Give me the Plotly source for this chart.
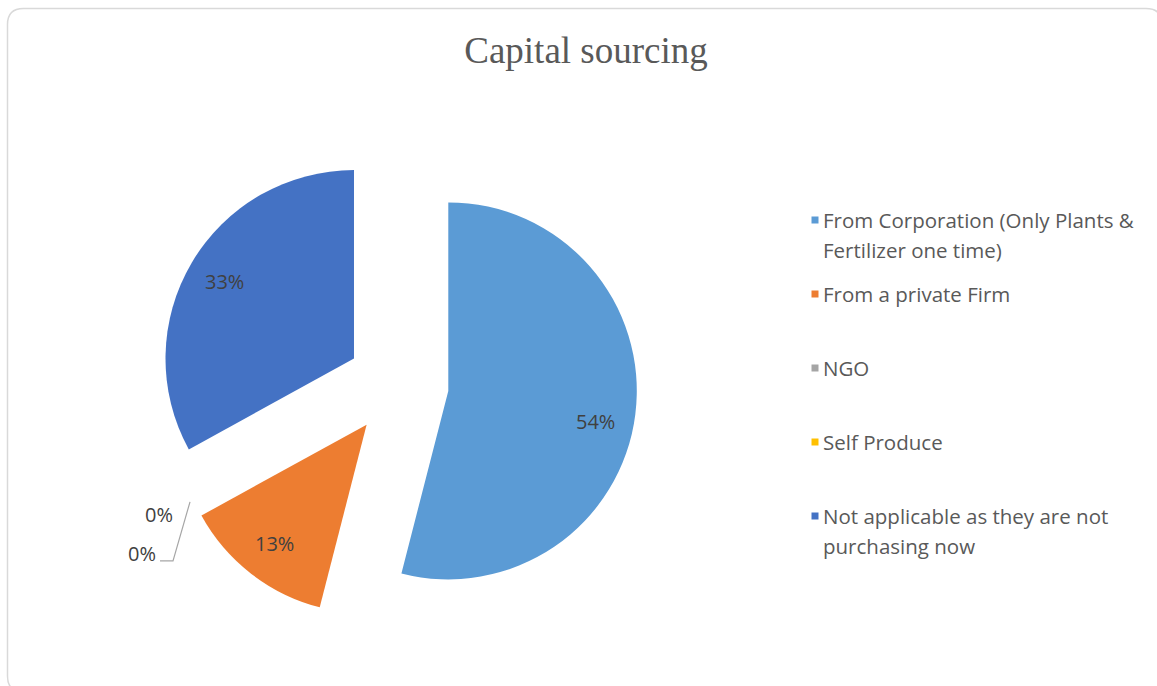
import math
import plotly.graph_objects as go

# Sources of capital and their share (%)
sources = [
    "From Corporation (Only Plants & Fertilizer one time)",
    "From a private Firm",
    "NGO",
    "Self Produce",
    "Not applicable as they are not purchasing now",
]
legend_lines = [
    ["From Corporation (Only Plants &", "Fertilizer one time)"],
    ["From a private Firm"],
    ["NGO"],
    ["Self Produce"],
    ["Not applicable as they are not", "purchasing now"],
]
shares = [54, 13, 0, 0, 33]
colors = ["#5B9BD5", "#ED7D31", "#A5A5A5", "#FFC000", "#4472C4"]

W, H = 1157, 686
PULL = 0.27
RADIUS = 188.5
CX, CY = 397.8, 384.5  # pie centre in pixels (from top-left)

side = 2 * RADIUS * (1 + PULL)
dom_x = [(CX - side / 2) / W, (CX + side / 2) / W]
dom_y = [1 - (CY + side / 2) / H, 1 - (CY - side / 2) / H]


def px(x):
    return x / W


def py(y):
    return 1 - y / H


fig = go.Figure(
    go.Pie(
        labels=sources,
        values=shares,
        marker=dict(colors=colors, line=dict(width=0)),
        pull=[PULL] * len(shares),
        sort=False,
        direction="clockwise",
        rotation=0,
        textinfo="none",
        hoverinfo="label+percent",
        domain=dict(x=dom_x, y=dom_y),
        showlegend=False,
    )
)

annotations = []
shapes = []

LABEL_FONT = dict(family="Open Sans", size=20, color="#404040")

# Percentage labels placed along each slice's mid-angle
total = sum(shares)
start = 0.0
zero_labels = []
for val, col in zip(shares, colors):
    frac = val / total
    mid = (start + frac / 2) * 2 * math.pi
    if val > 0:
        # large slices get their label nudged a little further round
        mid += math.radians(3.5) if frac > 0.5 else 0.0
        dx, dy = math.sin(mid), -math.cos(mid)
        k = (PULL + 0.80) * RADIUS
        annotations.append(dict(
            x=px(CX + k * dx), y=py(CY + k * dy), xref="paper", yref="paper",
            text=f"{val}%", showarrow=False, xanchor="center", yanchor="middle",
            font=LABEL_FONT,
        ))
    else:
        zero_labels.append((val, math.sin(mid), -math.cos(mid)))
    start += frac

# Zero-share slices get outside labels with a leader line
if zero_labels:
    _, dx, dy = zero_labels[0]
    k = (PULL + 1.0) * RADIUS
    sx, sy = CX + k * dx + 2, CY + k * dy + 2
    ex, ey = sx - 17, sy + 59
    shapes.append(dict(
        type="path", xref="paper", yref="paper",
        path=f"M {px(sx)} {py(sy)} L {px(ex)} {py(ey)} L {px(ex - 13)} {py(ey)}",
        line=dict(color="#A6A6A6", width=1.2),
    ))
    label_pos = [(sx - 15, sy + 13), (ex - 15, ey - 7)]
    for (val, _, _), (lx, ly) in zip(zero_labels, label_pos):
        annotations.append(dict(
            x=px(lx), y=py(ly), xref="paper", yref="paper",
            text=f"{val}%", showarrow=False, xanchor="right", yanchor="middle",
            font=LABEL_FONT,
        ))

# Legend drawn as coloured squares with text lines
leg_x, leg_y0, leg_step, line_gap = 815.0, 220, 74, 30
for i, (lines, col) in enumerate(zip(legend_lines, colors)):
    cy = leg_y0 + i * leg_step
    shapes.append(dict(
        type="rect", xref="paper", yref="paper",
        x0=px(leg_x - 3.5), x1=px(leg_x + 3.5), y0=py(cy + 3.5), y1=py(cy - 3.5),
        fillcolor=col, line=dict(width=0),
    ))
    for j, txt in enumerate(lines):
        annotations.append(dict(
            x=px(leg_x + 5.5), y=py(cy + j * line_gap), xref="paper", yref="paper",
            text=txt, showarrow=False, xanchor="left", yanchor="middle",
            font=dict(family="Open Sans", size=20.5, color="#595959"),
        ))

# Rounded chart frame
x0, y0, x1, y1, r = 7.5, 8.5, 1162, 692, 16
frame = (
    f"M {px(x0 + r)} {py(y0)} L {px(x1 - r)} {py(y0)} "
    f"Q {px(x1)} {py(y0)} {px(x1)} {py(y0 + r)} "
    f"L {px(x1)} {py(y1 - r)} Q {px(x1)} {py(y1)} {px(x1 - r)} {py(y1)} "
    f"L {px(x0 + r)} {py(y1)} Q {px(x0)} {py(y1)} {px(x0)} {py(y1 - r)} "
    f"L {px(x0)} {py(y0 + r)} Q {px(x0)} {py(y0)} {px(x0 + r)} {py(y0)} Z"
)
shapes.append(dict(type="path", xref="paper", yref="paper", path=frame,
                   line=dict(color="#D9D9D9", width=1.5), layer="below"))

fig.update_layout(
    width=W, height=H,
    margin=dict(l=0, r=0, t=0, b=0),
    paper_bgcolor="white", plot_bgcolor="white",
    title=dict(
        text="Capital sourcing", x=586 / W, xanchor="center",
        y=py(50), yanchor="middle",
        font=dict(family="Liberation Serif", size=37, color="#595959"),
    ),
    annotations=annotations,
    shapes=shapes,
)

fig.write_html("out.html")
